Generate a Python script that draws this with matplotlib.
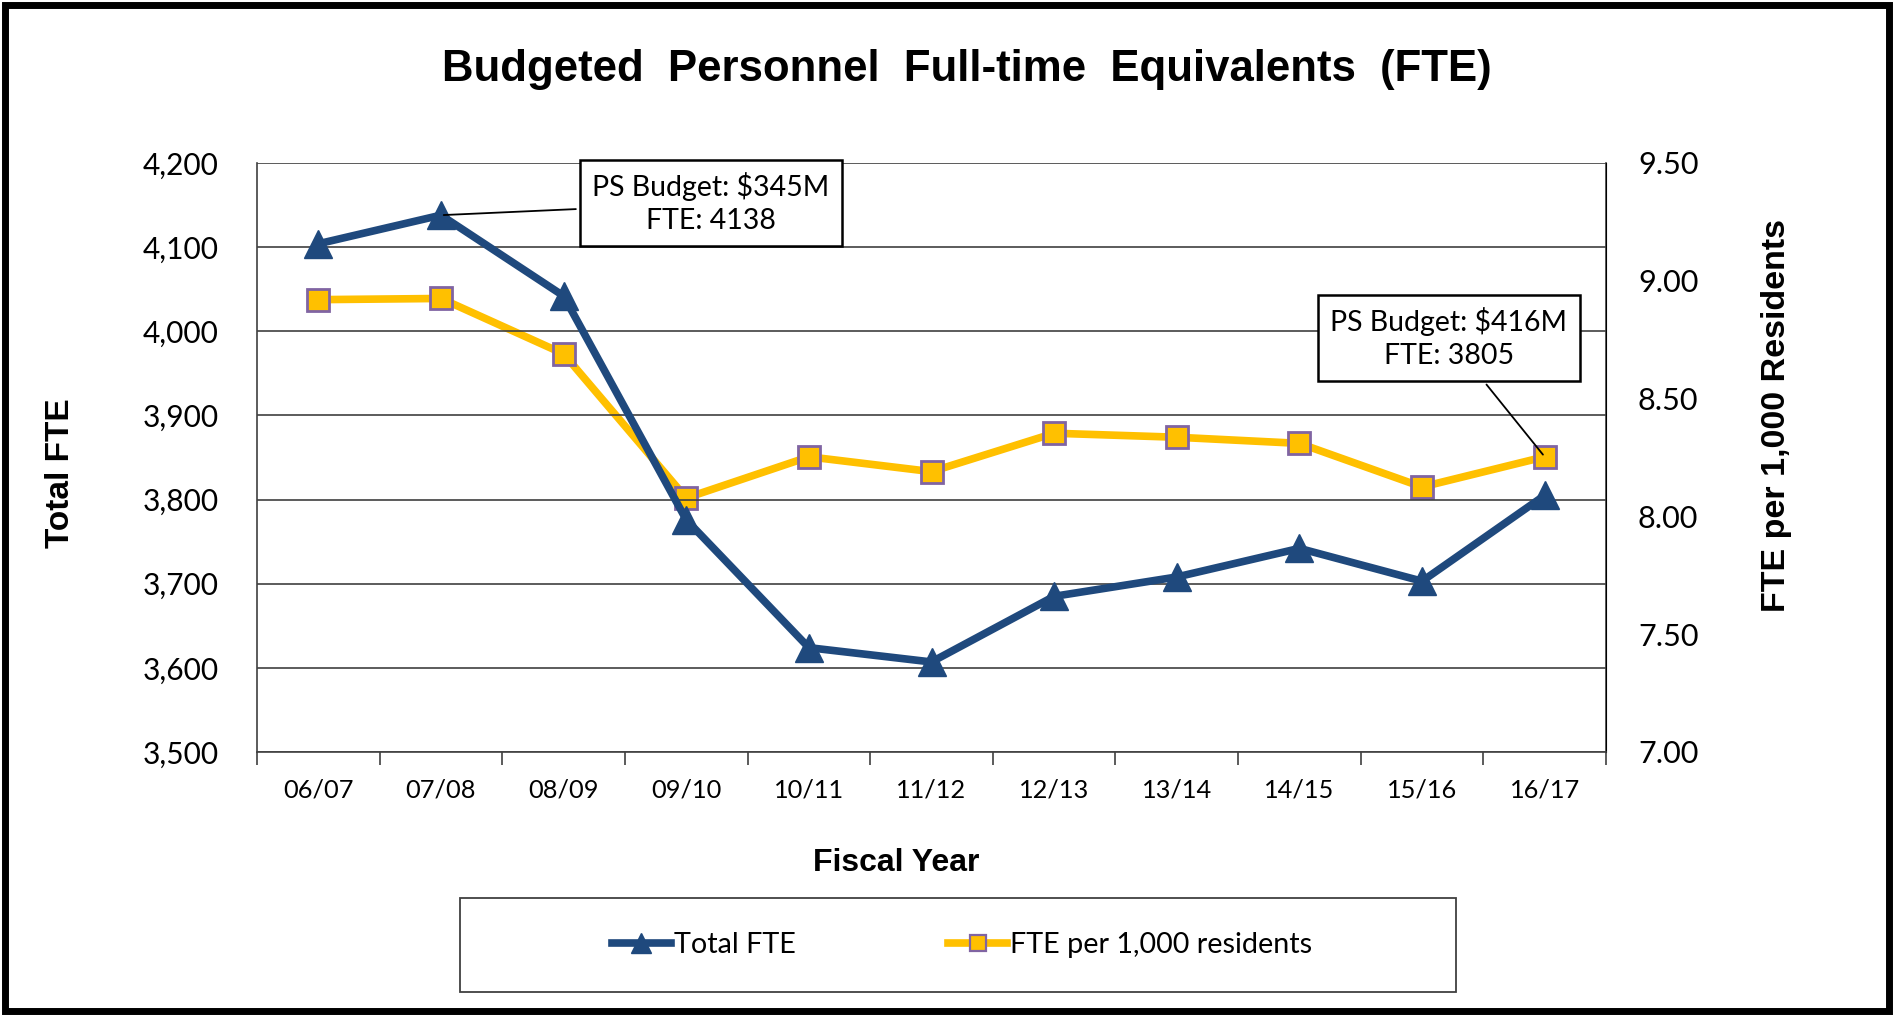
import matplotlib
matplotlib.use('Agg')
import matplotlib.pyplot as plt
from matplotlib.patches import Rectangle
from matplotlib.lines import Line2D
from matplotlib.ticker import FuncFormatter

## DATA
vYears = ['06/07', '07/08', '08/09', '09/10', '10/11', '11/12', '12/13', '13/14', '14/15', '15/16', '16/17']
vTotalFTE = [4104, 4138, 4042, 3776, 3624, 3607, 3685, 3708, 3742, 3703, 3805]
vPerResident = [8.92, 8.925, 8.69, 8.078, 8.253, 8.19, 8.353, 8.336, 8.31, 8.125, 8.253]
vLeftTicks = [3500, 3600, 3700, 3800, 3900, 4000, 4100, 4200]
vRightTicks = [7.00, 7.50, 8.00, 8.50, 9.00, 9.50]
vNotes = ['PS Budget: $345M\nFTE: 4138', 'PS Budget: $416M\nFTE: 3805']

## STYLE
BLUE = '#1F497D'
GOLD = '#FFC000'
PURPLE = '#8064A2'
TICK_FONT = 'Lato'
BOLD_FONT = 'Liberation Sans'
W, H = 1895, 1016

fig = plt.figure(figsize=(W / 100, H / 100), dpi=100)
fig.patch.set_facecolor('white')
# outer frame round the whole chart
fig.patches.append(Rectangle((5 / W, 5 / H), 1 - 11 / W, 1 - 10 / H, transform=fig.transFigure,
                             fill=False, edgecolor='black', linewidth=5))

ax = fig.add_axes([257 / W, 1 - 752 / H, (1606 - 257) / W, (752 - 163) / H])
ax2 = ax.twinx()
vX = list(range(len(vYears)))

# left axis: Total FTE
ax.set_ylim(vLeftTicks[0], vLeftTicks[-1])
ax.set_yticks(vLeftTicks)
ax.yaxis.set_major_formatter(FuncFormatter(lambda v, p: f'{int(v):,}'))
ax.grid(axis='y', color='#404040', linewidth=1.2)
ax.set_axisbelow(True)
ax.tick_params(axis='y', length=0, pad=27.5, labelsize=21.5)
ax.set_xlim(-0.5, len(vYears) - 0.5)
ax.set_xticks(vX)
ax.set_xticklabels(vYears)
ax.set_xticks([i - 0.5 for i in range(len(vYears) + 1)], minor=True)
ax.tick_params(axis='x', which='major', length=0, pad=19, labelsize=18.3)
ax.tick_params(axis='x', which='minor', length=9, width=1.2, color='#404040')
for lbl in ax.get_xticklabels() + ax.get_yticklabels():
    lbl.set_fontfamily(TICK_FONT)
ax.spines['top'].set_visible(False)
ax.spines['left'].set_color('#404040')
ax.spines['bottom'].set_color('#404040')
ax.spines['left'].set_linewidth(1.2)
ax.spines['bottom'].set_linewidth(1.2)
ax.set_ylabel('Total FTE', fontfamily=BOLD_FONT, fontweight='bold', fontsize=24)
ax.yaxis.set_label_coords(-0.134, 0.474)
ax.set_xlabel('Fiscal Year', fontfamily=BOLD_FONT, fontweight='bold', fontsize=23)
ax.xaxis.set_label_coords(0.474, -0.163)

# right axis: per 1,000 residents
ax2.set_ylim(vRightTicks[0], vRightTicks[-1])
ax2.set_yticks(vRightTicks)
ax2.yaxis.set_major_formatter(FuncFormatter(lambda v, p: f'{v:.2f}'))
ax2.tick_params(axis='y', length=0, pad=23, labelsize=22)
for lbl in ax2.get_yticklabels():
    lbl.set_fontfamily(TICK_FONT)
for s in ['top', 'left', 'bottom']:
    ax2.spines[s].set_visible(False)
ax2.spines['right'].set_color('#404040')
ax2.spines['right'].set_linewidth(1.2)
ax2.set_ylabel('FTE per 1,000 Residents', fontfamily=BOLD_FONT, fontweight='bold', fontsize=24.5,
               rotation=90)
ax2.yaxis.set_label_coords(1.115, 0.572)

# series
ax.plot(vX, vTotalFTE, color=BLUE, linewidth=5.5, marker='^', markersize=20,
        markerfacecolor=BLUE, markeredgecolor=BLUE, zorder=3, label='Total FTE')
ax2.plot(vX, vPerResident, color=GOLD, linewidth=5.5, marker='s', markersize=16,
         markerfacecolor=GOLD, markeredgecolor=PURPLE, markeredgewidth=2, zorder=3,
         label='FTE per 1,000 residents')
ax.set_zorder(ax2.get_zorder() + 1)
ax.patch.set_visible(False)

# callouts (both on the top axes so the gridlines stay behind the boxes)
kwBox = dict(boxstyle='square,pad=0.45', facecolor='white', edgecolor='black', linewidth=1.8)
ax.annotate(vNotes[0], xy=(1, vTotalFTE[1]), xycoords='data', xytext=(711, H - 203),
            textcoords='figure pixels', ha='center', va='center', fontsize=20.5, fontfamily=TICK_FONT,
            linespacing=1.3, bbox=kwBox, arrowprops=dict(arrowstyle='-', color='black', lw=1.3), zorder=5)
ax.annotate(vNotes[1], xy=(10, vPerResident[10]), xycoords=ax2.transData, xytext=(1449, H - 338),
            textcoords='figure pixels', ha='center', va='center', fontsize=20.5, fontfamily=TICK_FONT,
            linespacing=1.3, bbox=kwBox, arrowprops=dict(arrowstyle='-', color='black', lw=1.3), zorder=5)

# title
fig.text(0.5 + 19 / W, 1 - 69 / H, 'Budgeted  Personnel  Full-time  Equivalents  (FTE)', ha='center',
         va='center', fontfamily=BOLD_FONT, fontweight='bold', fontsize=31.5)

# legend with its own box
fig.patches.append(Rectangle((460 / W, 1 - 992 / H), (1456 - 460) / W, (992 - 898) / H,
                             transform=fig.transFigure, fill=False, edgecolor='#404040', linewidth=1.3))
vHandles = [Line2D([], [], color=BLUE, linewidth=5.5, marker='^', markersize=14),
            Line2D([], [], color=GOLD, linewidth=5.5, marker='s', markersize=12,
                   markerfacecolor=GOLD, markeredgecolor=PURPLE, markeredgewidth=1.6)]
fig.legend(vHandles, ['Total FTE', 'FTE per 1,000 residents'], loc='center',
           bbox_to_anchor=(962 / W, 1 - 945 / H), ncol=2, frameon=False, handlelength=2.05,
           handletextpad=0.1, columnspacing=5.3, prop={'family': TICK_FONT, 'size': 20.7})

fig.savefig('out.png', dpi=100)
